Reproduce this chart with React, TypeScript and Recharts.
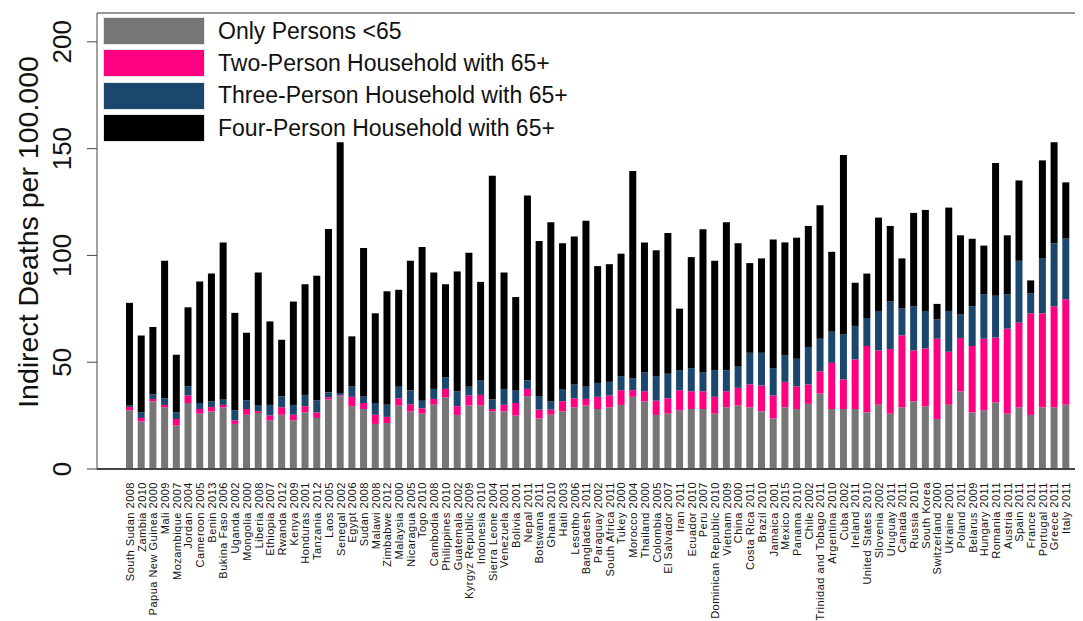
import React from 'react';
import { BarChart, Bar, XAxis, YAxis, CartesianGrid, ReferenceLine } from 'recharts';

const COUNTRIES = [
    'South Sudan 2008', 'Zambia 2010', 'Papua New Guinea 2000', 'Mali 2009', 'Mozambique 2007',
    'Jordan 2004', 'Cameroon 2005', 'Benin 2013', 'Bukina Faso 2006', 'Uganda 2002',
    'Mongolia 2000', 'Liberia 2008', 'Ethiopia 2007', 'Rwanda 2012', 'Kenya 2009',
    'Honduras 2001', 'Tanzania 2012', 'Laos 2005', 'Senegal 2002', 'Egypt 2006',
    'Sudan 2008', 'Malawi 2008', 'Zimbabwe 2012', 'Malaysia 2000', 'Nicaragua 2005',
    'Togo 2010', 'Cambodia 2008', 'Philippines 2010', 'Guatemala 2002', 'Kyrgyz Republic 2009',
    'Indonesia 2010', 'Sierra Leone 2004', 'Venezuela 2001', 'Bolivia 2001', 'Nepal 2011',
    'Botswana 2011', 'Ghana 2010', 'Haiti 2003', 'Lesotho 2006', 'Bangladesh 2011',
    'Paraguay 2002', 'South Africa 2011', 'Tukey 2000', 'Morocco 2004', 'Thailand 2000',
    'Colombia 2005', 'El Salvador 2007', 'Iran 2011', 'Ecuador 2010', 'Peru 2007',
    'Dominican Republic 2010', 'Vietnam 2009', 'China 2000', 'Costa Rica 2011', 'Brazil 2010',
    'Jamaica 2001', 'Mexico 2015', 'Panama 2010', 'Chile 2002', 'Trinidad and Tobago 2011',
    'Argentina 2010', 'Cuba 2002', 'Ireland 2011', 'United States 2010', 'Slovenia 2002',
    'Uruguay 2011', 'Canada 2011', 'Russia 2010', 'South Korea', 'Switzerland 2000',
    'Ukraine 2001', 'Poland 2011', 'Belarus 2009', 'Hungary 2011', 'Romania 2011',
    'Austria 2011', 'Spain 2011', 'France 2011', 'Portugal 2011', 'Greece 2011', 'Italy 2011'
];

// only persons <65
const ONLY_UNDER_65 = [
    27.5, 22.3, 31.7, 28.9, 20.3, 30.9, 25.9, 27.0, 28.9, 21.1,
    25.4, 26.2, 22.8, 25.4, 22.8, 26.5, 23.9, 32.5, 34.1, 29.4,
    28.1, 21.1, 21.5, 29.7, 27.0, 25.9, 30.1, 33.6, 25.3, 29.7,
    29.7, 27.0, 27.0, 25.0, 34.1, 23.7, 25.4, 27.0, 28.9, 29.7,
    28.1, 28.9, 30.0, 33.8, 31.6, 25.3, 25.9, 27.5, 28.1, 28.1,
    25.9, 28.9, 29.7, 28.9, 27.0, 23.7, 28.9, 28.1, 30.5, 35.3,
    28.1, 28.1, 28.1, 26.5, 30.1, 25.9, 28.9, 31.7, 29.4, 23.4,
    30.1, 36.3, 26.5, 27.5, 31.2, 25.9, 28.9, 25.3, 28.9, 28.9, 30.1
];

const TWO_PERSON = [
    1.5, 1.6, 1.1, 1.1, 3.1, 3.5, 2.2, 2.0, 1.1, 1.7,
    2.7, 0.8, 2.3, 3.5, 2.6, 2.9, 2.6, 1.1, 0.4, 4.4,
    2.8, 4.3, 2.9, 3.4, 3.3, 2.5, 2.7, 3.9, 4.1, 4.7,
    5.0, 1.1, 3.1, 5.9, 3.4, 4.1, 2.4, 4.7, 4.2, 3.1,
    5.7, 5.5, 6.9, 3.1, 4.8, 6.7, 7.2, 9.4, 8.3, 8.3,
    7.9, 7.5, 8.3, 10.7, 12.1, 10.7, 11.9, 10.5, 9.1, 10.4,
    21.6, 13.8, 23.2, 31.1, 25.4, 30.3, 33.7, 23.8, 27.1, 37.6,
    24.8, 25.0, 31.1, 33.5, 30.3, 39.8, 39.6, 47.6, 44.0, 47.3, 49.4
];

const THREE_PERSON = [
    0.7, 2.6, 2.1, 3.1, 3.1, 4.4, 2.8, 2.6, 2.8, 4.7,
    4.1, 3.0, 4.9, 5.1, 4.6, 5.3, 5.7, 2.3, 1.1, 5.0,
    3.1, 5.5, 5.7, 5.4, 6.4, 3.6, 4.7, 5.5, 7.0, 4.1,
    6.7, 4.4, 7.4, 5.8, 3.9, 6.2, 3.8, 5.8, 6.5, 6.0,
    6.5, 6.4, 6.6, 5.6, 8.8, 11.5, 11.5, 9.4, 10.8, 8.8,
    12.5, 9.9, 9.9, 14.8, 15.3, 12.8, 12.5, 13.0, 17.5, 15.3,
    14.6, 21.1, 15.7, 13.1, 18.5, 22.2, 12.5, 20.7, 17.5, 9.1,
    19.1, 11.2, 18.6, 20.7, 19.6, 16.0, 29.0, 9.3, 25.6, 29.5, 28.4
];

const FOUR_PERSON = [
    48.1, 36.0, 31.6, 64.4, 27.0, 36.9, 56.9, 59.9, 73.3, 45.6,
    31.6, 62.0, 39.1, 26.5, 48.4, 51.8, 58.3, 76.5, 117.4, 23.3,
    69.5, 42.0, 53.1, 45.4, 60.8, 71.9, 54.5, 43.5, 56.1, 62.8,
    46.2, 104.8, 54.5, 43.8, 86.7, 72.8, 83.9, 68.2, 69.3, 77.4,
    54.7, 55.1, 57.3, 97.0, 60.9, 58.9, 65.9, 28.8, 52.0, 67.0,
    51.2, 69.2, 57.8, 42.0, 44.2, 60.2, 52.8, 56.7, 56.7, 62.5,
    37.4, 84.0, 20.2, 20.8, 43.7, 35.4, 23.5, 43.7, 47.3, 7.2,
    48.4, 36.9, 31.6, 22.9, 62.2, 27.7, 37.6, 6.1, 46.0, 47.3, 26.3
];

const Y_TICKS = [0, 50, 100, 150, 200];
const GRID_TICKS = [50, 100, 150];
const Y_DOMAIN = [0, 213.5];

const SERIES = [
    { key: 'under65', name: 'Only Persons <65', color: '#767676' },
    { key: 'two', name: 'Two-Person Household with 65+', color: '#ff0080' },
    { key: 'three', name: 'Three-Person Household with 65+', color: '#1b466e' },
    { key: 'four', name: 'Four-Person Household with 65+', color: '#000000' },
];

const data = COUNTRIES.map((name, i) => ({
    name,
    under65: ONLY_UNDER_65[i],
    two: TWO_PERSON[i],
    three: THREE_PERSON[i],
    four: FOUR_PERSON[i],
}));

const FONT = 'Arial, "Liberation Sans", sans-serif';

const XTick = ({ x, y, payload }: any) => (
    <text
        x={x}
        y={y}
        transform={`rotate(-90 ${x} ${y})`}
        textAnchor="end"
        dominantBaseline="central"
        fontSize={11}
        letterSpacing={0.5}
        fontFamily={FONT}
        fill="#111"
    >
        {payload.value}
    </text>
);

const YTick = ({ y, payload }: any) => (
    <text
        x={62}
        y={y}
        transform={`rotate(-90 62 ${y})`}
        textAnchor="middle"
        dominantBaseline="central"
        fontSize={26}
        fontFamily={FONT}
        fill="#111"
    >
        {payload.value}
    </text>
);

const App = () => {
    return (
        <div style={{ position: 'absolute', left: 0, top: 0, width: 1083, height: 621, background: '#fff' }}>
            <BarChart
                width={1083}
                height={621}
                data={data}
                margin={{ top: 13, right: 8, bottom: 0, left: 0 }}
                barSize={7}
            >
                <CartesianGrid yAxisId="grid" vertical={false} stroke="#dcdcdc" strokeWidth={2} />
                <XAxis
                    dataKey="name"
                    interval={0}
                    height={152}
                    tick={<XTick />}
                    tickLine={false}
                    tickSize={0}
                    tickMargin={13}
                    axisLine={{ stroke: '#444', strokeWidth: 2 }}
                    padding={{ left: 27, right: 3 }}
                />
                <YAxis
                    width={97}
                    domain={Y_DOMAIN}
                    ticks={Y_TICKS}
                    tick={<YTick />}
                    tickSize={10}
                    tickLine={{ stroke: '#444' }}
                    axisLine={{ stroke: '#444' }}
                    label={{
                        content: () => (
                            <text
                                x={28}
                                y={232}
                                transform="rotate(-90 28 232)"
                                textAnchor="middle"
                                dominantBaseline="central"
                                fontSize={28.5}
                                fontFamily={FONT}
                                fill="#111"
                            >
                                Indirect Deaths per 100.000
                            </text>
                        ),
                    }}
                />
                <YAxis yAxisId="grid" hide domain={Y_DOMAIN} ticks={GRID_TICKS} />
                <ReferenceLine y={213.5} stroke="#555" strokeWidth={1} ifOverflow="extendDomain" />
                {SERIES.map((s) => (
                    <Bar key={s.key} dataKey={s.key} name={s.name} stackId="a" fill={s.color} isAnimationActive={false} />
                ))}
            </BarChart>

            {/* legend box, top left inside the plot */}
            <div style={{ position: 'absolute', left: 100, top: 15, fontFamily: FONT }}>
                {SERIES.map((s) => (
                    <div key={s.key} style={{ display: 'flex', alignItems: 'center', height: 32.3 }}>
                        <div style={{ width: 102, height: 28, background: s.color, border: '1px solid #e6e6e6', boxSizing: 'border-box', marginLeft: 3 }} />
                        <span style={{ marginLeft: 13, fontSize: 23, color: '#111', whiteSpace: 'nowrap' }}>{s.name}</span>
                    </div>
                ))}
            </div>
        </div>
    );
};

export default App;
